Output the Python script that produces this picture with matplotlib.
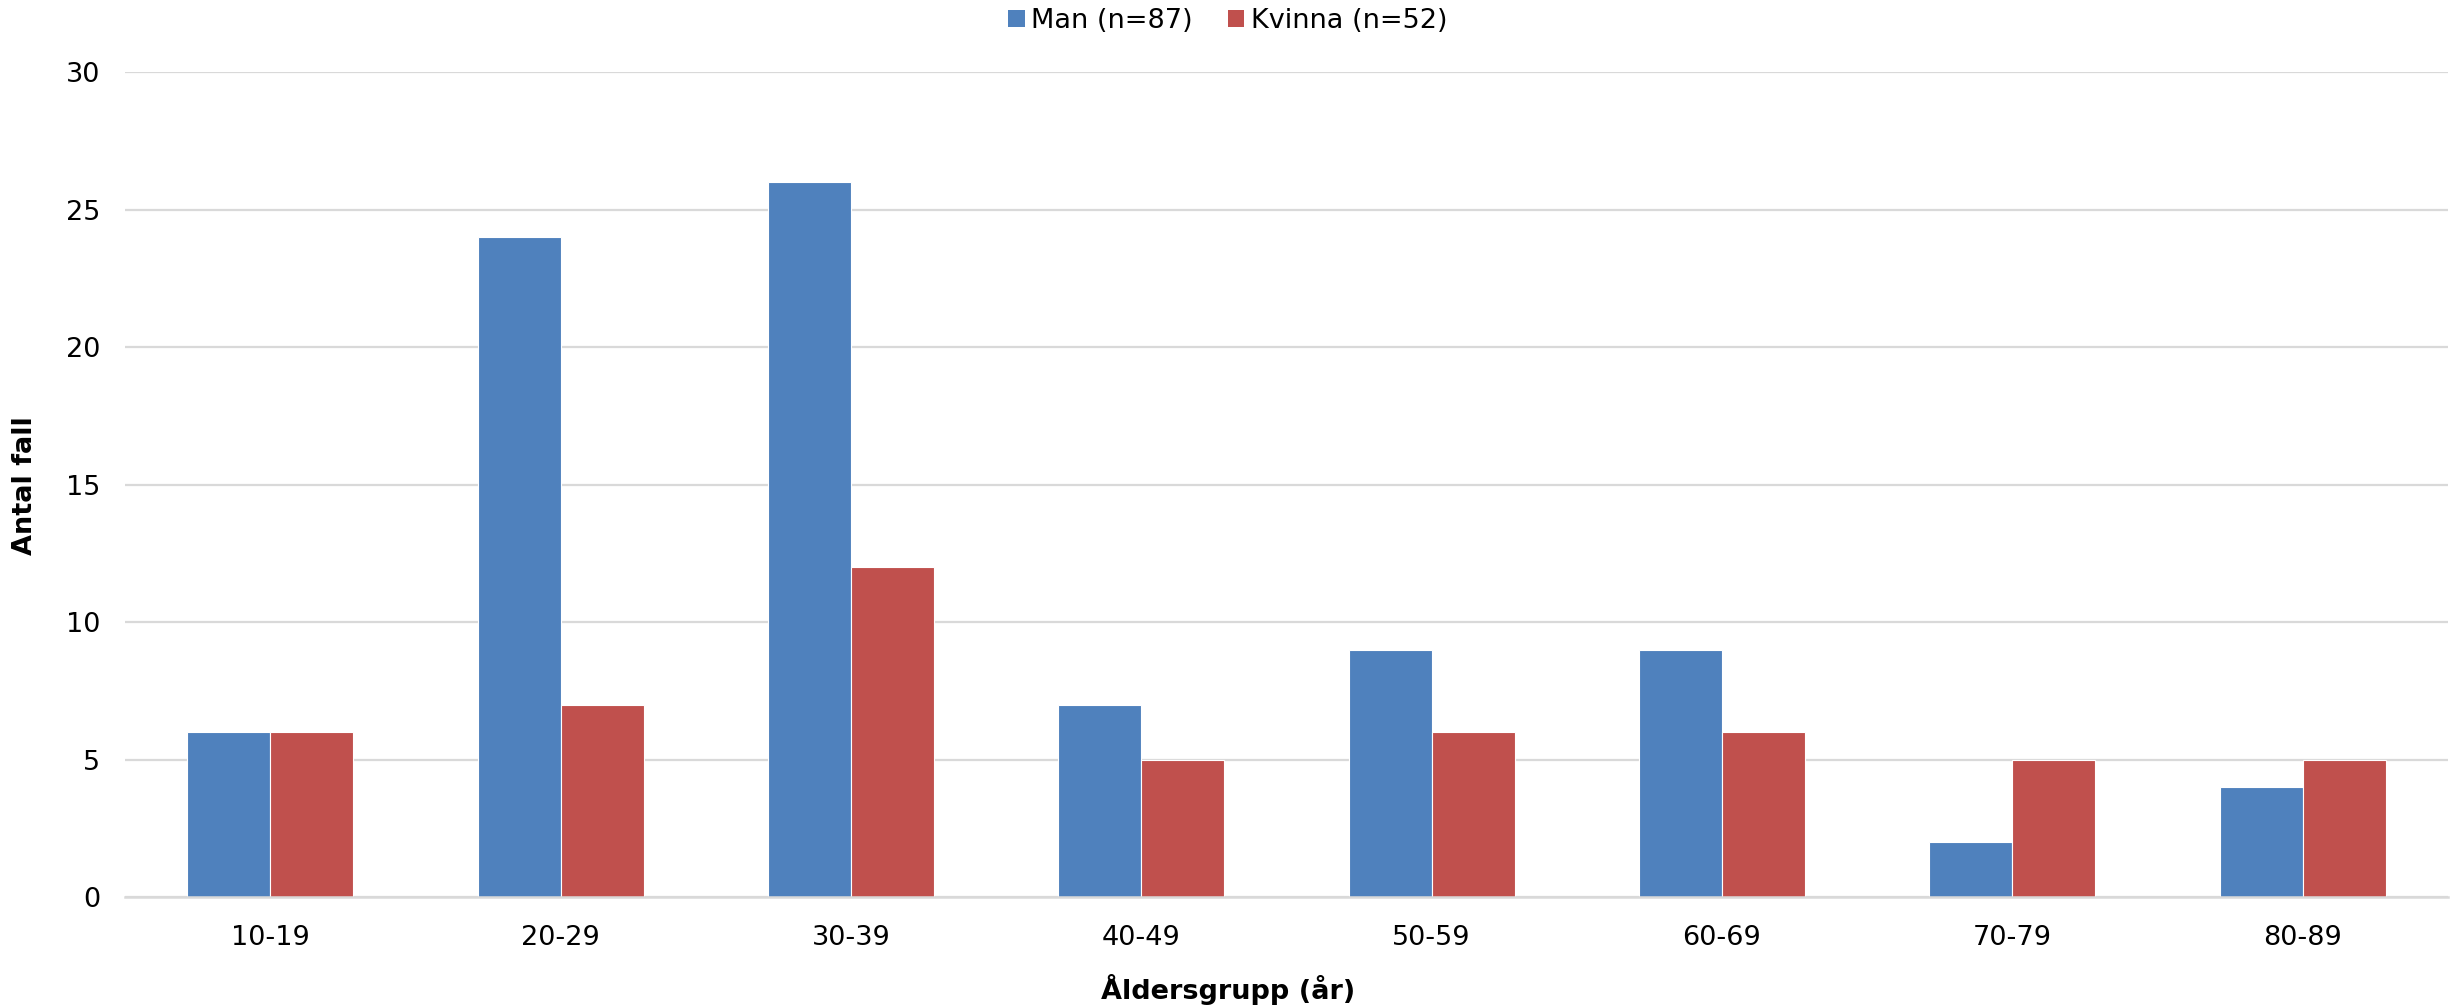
import matplotlib
matplotlib.use("Agg")
import matplotlib.pyplot as plt
import numpy as np
from matplotlib.patches import Patch

categories = ["10-19", "20-29", "30-39", "40-49", "50-59", "60-69", "70-79", "80-89"]
man = [6, 24, 26, 7, 9, 9, 2, 4]
kvinna = [6, 7, 12, 5, 6, 6, 5, 5]
series_names = ["Man (n=87)", "Kvinna (n=52)"]
yticks = [0, 5, 10, 15, 20, 25, 30]

plt.rcParams['font.family'] = ['DejaVu Sans']

fig = plt.figure(figsize=(24.56, 10.06), dpi=100)
ax = fig.add_axes([0.0509, 0.1083, 0.9458, 0.8201])

x = np.arange(len(categories))
w = 1 / 3.5
blue = "#4F81BD"
red = "#C0504D"
ax.bar(x - w / 2, man, width=w, color=blue, edgecolor="white", linewidth=0.8, zorder=3)
ax.bar(x + w / 2, kvinna, width=w, color=red, edgecolor="white", linewidth=0.8, zorder=3)

ax.set_xlim(-0.5, len(categories) - 0.5)
ax.set_ylim(0, 30)
ax.set_yticks(yticks)
ax.set_xticks(x)
ax.set_xticklabels(categories)
ax.tick_params(axis="both", length=0, labelsize=19.5, colors="#000000")
ax.tick_params(axis="x", pad=20)
ax.tick_params(axis="y", pad=18)
ax.yaxis.grid(True, color="#D9D9D9", linewidth=1.6, zorder=0)
ax.set_axisbelow(True)
for s in ["top", "right", "left"]:
    ax.spines[s].set_visible(False)
ax.spines["bottom"].set_color("#D9D9D9")
ax.spines["bottom"].set_linewidth(1.8)
ax.spines["bottom"].set_zorder(4)

fig.text(0.0102, 0.517, "Antal fall", rotation=90, ha="center", va="center",
         fontsize=19.5, fontweight="bold")
fig.text(0.5, 0.0165, "Åldersgrupp (år)", ha="center", va="center",
         fontsize=19.5, fontweight="bold")

handles = [Patch(facecolor=blue), Patch(facecolor=red)]
fig.legend(handles, series_names, loc="upper center", bbox_to_anchor=(0.5, 1.016), ncol=2,
           frameon=False, fontsize=19.5, handlelength=0.6, handleheight=0.6,
           handletextpad=0.25, columnspacing=1.3)

fig.savefig("out.png", dpi=100)
